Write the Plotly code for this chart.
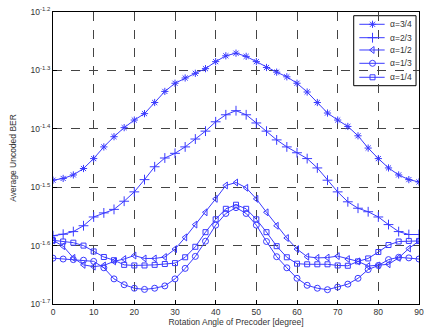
import numpy as np
import plotly.graph_objects as go

angle = [0, 2.5, 5, 7.5, 10, 12.5, 15, 17.5, 20, 22.5, 25, 27.5, 30, 32.5, 35, 37.5, 40, 42.5,
         45, 47.5, 50, 52.5, 55, 57.5, 60, 62.5, 65, 67.5, 70, 72.5, 75, 77.5, 80, 82.5, 85, 87.5, 90]

# log10 of average uncoded BER
log_a34 = [-1.488, -1.485, -1.479, -1.468, -1.451, -1.431, -1.4135, -1.398, -1.385, -1.374,
           -1.355, -1.336, -1.322, -1.313, -1.305, -1.297, -1.285, -1.275, -1.2705, -1.276,
           -1.285, -1.295, -1.303, -1.311, -1.322, -1.337, -1.355, -1.373, -1.385, -1.396,
           -1.412, -1.433, -1.451, -1.467, -1.479, -1.487, -1.491]
log_a23 = [-1.583, -1.5805, -1.576, -1.566, -1.551, -1.544, -1.538, -1.524, -1.508, -1.487,
           -1.465, -1.450, -1.442, -1.431, -1.4175, -1.404, -1.388, -1.376, -1.369, -1.376,
           -1.390, -1.404, -1.419, -1.431, -1.441, -1.451, -1.467, -1.488, -1.508, -1.525,
           -1.536, -1.542, -1.551, -1.564, -1.576, -1.581, -1.581]
log_a12 = [-1.591, -1.601, -1.621, -1.633, -1.636, -1.634, -1.627, -1.623, -1.617, -1.622,
           -1.622, -1.6195, -1.606, -1.586, -1.564, -1.543, -1.520, -1.497, -1.492, -1.501,
           -1.520, -1.543, -1.566, -1.587, -1.606, -1.619, -1.621, -1.6205, -1.618, -1.623,
           -1.627, -1.635, -1.634, -1.632, -1.621, -1.605, -1.592]
log_a13 = [-1.6215, -1.623, -1.624, -1.625, -1.627, -1.638, -1.657, -1.667, -1.673, -1.675,
           -1.673, -1.669, -1.657, -1.639, -1.6185, -1.5925, -1.565, -1.545, -1.535, -1.545,
           -1.565, -1.593, -1.619, -1.638, -1.656, -1.668, -1.673, -1.6755, -1.671, -1.666,
           -1.656, -1.641, -1.634, -1.624, -1.620, -1.621, -1.623]
log_a14 = [-1.591, -1.593, -1.595, -1.600, -1.610, -1.6195, -1.625, -1.633, -1.634, -1.634,
           -1.633, -1.6315, -1.630, -1.620, -1.602, -1.577, -1.555, -1.537, -1.530, -1.537,
           -1.555, -1.577, -1.601, -1.620, -1.631, -1.632, -1.632, -1.632, -1.634, -1.6345,
           -1.627, -1.622, -1.611, -1.599, -1.593, -1.592, -1.592]

labels = ["α=3/4", "α=2/3", "α=1/2", "α=1/3", "α=1/4"]
series = [log_a34, log_a23, log_a12, log_a13, log_a14]
symbols = ["asterisk-open", "cross-thin-open", "triangle-left-open", "circle-open", "square-open"]
msizes = [6, 7, 6, 6, 5]

x_ticks = [0, 10, 20, 30, 40, 50, 60, 70, 80, 90]
y_exps = [-1.7, -1.6, -1.5, -1.4, -1.3, -1.2]
y_ticktext = ["10<sup>%s</sup>" % e for e in y_exps]

blue = "#3a3aff"
txt = "#333"
fig = go.Figure()
for lab, s, sym, ms in zip(labels, series, symbols, msizes):
    fig.add_trace(go.Scatter(
        x=angle, y=10 ** np.array(s), name=lab, mode="lines+markers",
        line=dict(color=blue, width=1), showlegend=False,
        marker=dict(symbol=sym, size=ms, color=blue, line=dict(color=blue, width=1)),
    ))

# compact legend (matching the reference's tight box) drawn in an overlay axis
leg_x0, leg_x1, leg_y0, leg_y1 = 0.8216, 0.9919, 0.7476, 0.9873
row_y = [0.9579, 0.912, 0.8699, 0.8243, 0.7764]
line_x0, line_x1, mark_x, text_x = 0.837, 0.9062, 0.873, 0.9154
fig.add_shape(type="rect", xref="paper", yref="paper", x0=leg_x0, x1=leg_x1, y0=leg_y0, y1=leg_y1,
              line=dict(color="black", width=1), fillcolor="white", layer="between")
for lab, sym, ms, ry in zip(labels, symbols, msizes, row_y):
    fig.add_trace(go.Scatter(x=[line_x0, line_x1], y=[ry, ry], mode="lines", xaxis="x2", yaxis="y2",
                             line=dict(color=blue, width=1), showlegend=False, hoverinfo="skip"))
    fig.add_trace(go.Scatter(x=[mark_x], y=[ry], mode="markers", xaxis="x2", yaxis="y2",
                             marker=dict(symbol=sym, size=ms, color=blue, line=dict(color=blue, width=1)),
                             showlegend=False, hoverinfo="skip"))
    fig.add_annotation(x=text_x, y=ry, xref="x2", yref="y2", text=lab, showarrow=False,
                       xanchor="left", yanchor="middle", font=dict(size=8.5, color=txt))

axis_common = dict(showline=True, linecolor="black", linewidth=1, mirror=True,
                   ticks="inside", ticklen=4, tickcolor="black",
                   showgrid=True, gridcolor="#444", gridwidth=1, griddash="dash",
                   zeroline=False, ticklabeloverflow="allow",
                   tickfont=dict(size=8.5, color=txt, family="Liberation Sans"))

fig.update_layout(
    width=428, height=329,
    margin=dict(l=53, r=4, t=12, b=25),
    paper_bgcolor="white", plot_bgcolor="white",
    font=dict(family="Liberation Sans", size=8, color=txt),
    xaxis=dict(range=[0, 90], tickvals=x_ticks,
               title=dict(text="Rotation Angle of Precoder [degree]", standoff=2,
                          font=dict(size=8.5)), **axis_common),
    yaxis=dict(type="log", range=[-1.7, -1.2], tickvals=[10 ** e for e in y_exps],
               ticktext=y_ticktext,
               title=dict(text="Average Uncoded BER", standoff=12, font=dict(size=8.5)),
               **axis_common),
    xaxis2=dict(overlaying="x", range=[0, 1], visible=False, fixedrange=True),
    yaxis2=dict(overlaying="y", range=[0, 1], visible=False, fixedrange=True),
    showlegend=False,
)

fig.write_html("out.html")
